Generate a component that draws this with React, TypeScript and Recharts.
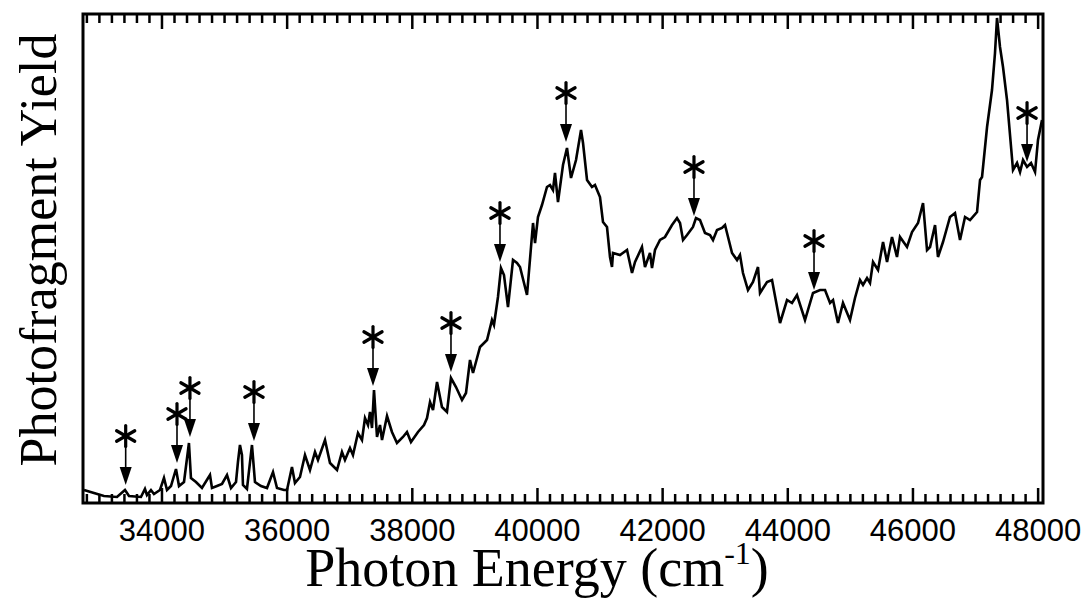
import { ComposedChart, Line, ReferenceArea, ReferenceLine, Scatter, XAxis, YAxis } from "recharts";

// photon energy (cm^-1) and yield (arb. units)
const energy = [
  32754, 32913, 33073, 33281, 33409, 33473, 33664, 33728, 33760, 33824, 33872, 33968,
  34032, 34080, 34144, 34224, 34272, 34352, 34431, 34463, 34543, 34639, 34767, 34799,
  34879, 34959, 35039, 35103, 35183, 35214, 35246, 35278, 35294, 35358, 35438, 35486,
  35582, 35678, 35774, 35838, 35950, 35998, 36077, 36125, 36205, 36285, 36365, 36445,
  36493, 36605, 36685, 36797, 36876, 36924, 37004, 37052, 37132, 37196, 37244, 37292,
  37324, 37356, 37388, 37436, 37484, 37516, 37596, 37675, 37755, 37851, 37915, 37979,
  38091, 38187, 38235, 38283, 38331, 38395, 38474, 38554, 38618, 38698, 38794, 38858,
  38922, 38970, 39082, 39194, 39273, 39305, 39369, 39417, 39465, 39529, 39609, 39673,
  39721, 39833, 39929, 39961, 40008, 40072, 40152, 40200, 40248, 40280, 40328, 40408,
  40472, 40536, 40616, 40696, 40728, 40792, 40871, 40919, 40999, 41047, 41111, 41159,
  41191, 41207, 41319, 41431, 41511, 41559, 41670, 41718, 41798, 41830, 41878, 41958,
  42038, 42150, 42230, 42278, 42326, 42390, 42485, 42533, 42597, 42677, 42757, 42805,
  42869, 42949, 42997, 43045, 43109, 43189, 43236, 43284, 43364, 43444, 43524, 43556,
  43668, 43748, 43876, 43988, 44067, 44147, 44275, 44403, 44515, 44595, 44675, 44723,
  44802, 44882, 44994, 45074, 45154, 45202, 45266, 45314, 45362, 45442, 45522, 45586,
  45665, 45745, 45793, 45905, 45985, 46081, 46161, 46225, 46273, 46353, 46400, 46480,
  46592, 46672, 46752, 46832, 46912, 47024, 47072, 47104, 47184, 47263, 47311, 47343,
  47391, 47439, 47503, 47599, 47663, 47711, 47759, 47823, 47887, 47951, 47998, 48062,
];
const yieldValues = [
  13, 10, 7, 6, 13, 7, 6, 14, 8, 13, 9, 13,
  25, 13, 17, 34, 17, 21, 60, 25, 21, 15, 28, 15,
  17, 19, 28, 15, 21, 41, 58, 48, 18, 14, 58, 21,
  17, 15, 31, 15, 13, 13, 36, 20, 26, 48, 33, 51,
  43, 63, 40, 33, 51, 43, 55, 48, 70, 63, 85, 78,
  91, 75, 113, 66, 78, 63, 87, 71, 60, 66, 71, 61,
  71, 78, 85, 101, 93, 121, 96, 91, 125, 116, 103, 110,
  143, 130, 156, 163, 183, 178, 206, 235, 228, 196, 243, 240,
  236, 208, 280, 260, 286, 298, 316, 318, 313, 330, 301, 338,
  355, 325, 343, 373, 360, 323, 316, 318, 306, 281, 276, 246,
  236, 250, 248, 253, 230, 241, 256, 236, 250, 235, 253, 263,
  266, 278, 285, 280, 263, 268, 276, 285, 283, 270, 268, 263,
  273, 275, 278, 266, 250, 243, 248, 230, 213, 221, 236, 210,
  221, 223, 180, 203, 200, 208, 183, 210, 213, 213, 200, 203,
  180, 200, 183, 205, 223, 218, 225, 220, 241, 233, 261, 241,
  266, 246, 266, 256, 271, 280, 300, 253, 256, 278, 246, 261,
  286, 290, 263, 286, 283, 291, 323, 326, 376, 413, 450, 485,
  456, 436, 403, 333, 340, 331, 343, 336, 340, 331, 363, 383,
];

// asterisk-marked lines: where the arrow tip points
const starEnergy = [33420, 34240, 34447, 35470, 37372, 38618, 39401, 40456, 42501, 44419, 47823];
const starYield = [18, 40, 66, 62, 117, 131, 241, 361, 287, 213, 341];

const majorTicks = [34000, 36000, 38000, 40000, 42000, 44000, 46000, 48000];
const X_MIN = 32738;
const X_MAX = 48078;
const Y_MAX = 489; // yield axis is unlabelled, 1 unit ~ 1px
const MINOR_STEP = 200;

const curve = energy.map((x, i) => ({ x, y: yieldValues[i] }));
const stars = starEnergy.map((x, i) => ({ x, y: starYield[i] }));

const allTicks: number[] = [];
for (let t = Math.ceil(X_MIN / MINOR_STEP) * MINOR_STEP; t <= X_MAX; t += MINOR_STEP) {
  allTicks.push(t);
}

// inward ticks on top and bottom edges of the frame
const tickLen = (v: number) => (majorTicks.includes(v) ? 15 : 9);

function XTitle(props: any) {
  const { viewBox } = props;
  return (
    <text
      x={viewBox.x + 454}
      y={viewBox.y + 83}
      textAnchor="middle"
      fontFamily="Liberation Serif"
      fontSize={54}
      fill="#000"
    >
      Photon Energy (cm
      <tspan fontSize={32} dy={-22}>-1</tspan>
      <tspan dy={22}>)</tspan>
    </text>
  );
}

function YTitle(props: any) {
  const { viewBox } = props;
  const cx = viewBox.x - 27;
  const cy = viewBox.y + 236;
  return (
    <text
      x={cx}
      y={cy}
      transform={`rotate(-90 ${cx} ${cy})`}
      textAnchor="middle"
      fontFamily="Liberation Serif"
      fontSize={52}
      fill="#000"
    >
      Photofragment Yield
    </text>
  );
}

function EnergyTick(props: any) {
  const { x, y, payload } = props;
  return (
    <text x={x} y={y} textAnchor="middle" fontFamily="Liberation Sans" fontSize={31} fill="#000">
      {payload.value}
    </text>
  );
}

function StarArrow(props: any) {
  const { cx, cy } = props;
  const sy = cy - 49;
  const r = 10.5;
  const arms = [90, 30, 150];
  return (
    <g>
      {arms.map((a) => {
        const dx = Math.cos((a * Math.PI) / 180) * r;
        const dy = Math.sin((a * Math.PI) / 180) * r;
        return (
          <line
            key={a}
            x1={cx - dx}
            y1={sy - dy}
            x2={cx + dx}
            y2={sy + dy}
            stroke="#000"
            strokeWidth={3.2}
            strokeLinecap="round"
          />
        );
      })}
      <line x1={cx} y1={sy + r} x2={cx} y2={cy - 17} stroke="#000" strokeWidth={1.6} />
      <polygon points={`${cx - 6},${cy - 18} ${cx + 6},${cy - 18} ${cx},${cy}`} fill="#000" />
    </g>
  );
}

export default function App() {
  return (
    <div style={{ position: "absolute", left: 0, top: 0, background: "#fff" }}>
      <ComposedChart width={1089} height={605} margin={{ top: 14, right: 46, bottom: 42, left: 83 }}>
        <XAxis
          dataKey="x"
          type="number"
          domain={[X_MIN, X_MAX]}
          allowDataOverflow
          ticks={majorTicks}
          interval={0}
          tickSize={0}
          tickMargin={38}
          tickLine={false}
          axisLine={false}
          tick={<EnergyTick />}
          height={60}
          label={<XTitle />}
        />
        <YAxis dataKey="y" type="number" domain={[0, Y_MAX]} allowDataOverflow hide />
        {allTicks.map((t) => (
          <ReferenceLine
            key={`b${t}`}
            ifOverflow="visible"
            segment={[
              { x: t, y: 0 },
              { x: t, y: tickLen(t) },
            ]}
            stroke="#000"
            strokeWidth={2.5}
          />
        ))}
        {allTicks.map((t) => (
          <ReferenceLine
            key={`t${t}`}
            ifOverflow="visible"
            segment={[
              { x: t, y: Y_MAX },
              { x: t, y: Y_MAX - tickLen(t) },
            ]}
            stroke="#000"
            strokeWidth={2.5}
          />
        ))}
        <ReferenceArea
          x1={X_MIN}
          x2={X_MAX}
          y1={0}
          y2={Y_MAX}
          fill="none"
          fillOpacity={0}
          stroke="#000"
          strokeWidth={3}
          label={<YTitle />}
        />
        <Line
          data={curve}
          dataKey="y"
          type="linear"
          stroke="#000"
          strokeWidth={2.6}
          dot={false}
          isAnimationActive={false}
        />
        <Scatter data={stars} dataKey="y" shape={<StarArrow />} isAnimationActive={false} />
      </ComposedChart>
    </div>
  );
}
